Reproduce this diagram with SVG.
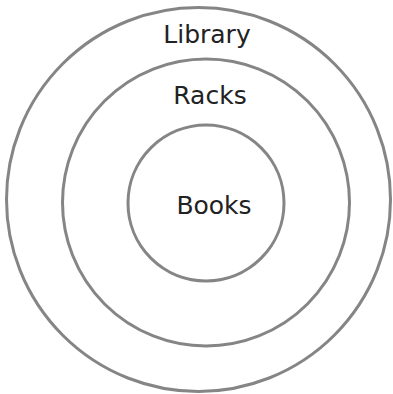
<svg xmlns="http://www.w3.org/2000/svg" width="393" height="394" viewBox="0 0 393 394">
<style>
.c{fill:none;stroke:#858585;stroke-width:3}
.t{font-family:"DejaVu Sans",sans-serif;font-size:25px;fill:#222;text-anchor:middle}
</style>
<rect width="393" height="394" fill="#fff"/>
<g id="library"><circle class="c" cx="198.5" cy="199.5" r="192"/><text class="t" x="207" y="43">Library</text></g>
<g id="racks"><circle class="c" cx="206" cy="202.5" r="143.5"/><text class="t" x="210" y="104">Racks</text></g>
<g id="books"><circle class="c" cx="206" cy="203" r="78"/><text class="t" x="214" y="214">Books</text></g>
<g id="connectors"/>
</svg>
